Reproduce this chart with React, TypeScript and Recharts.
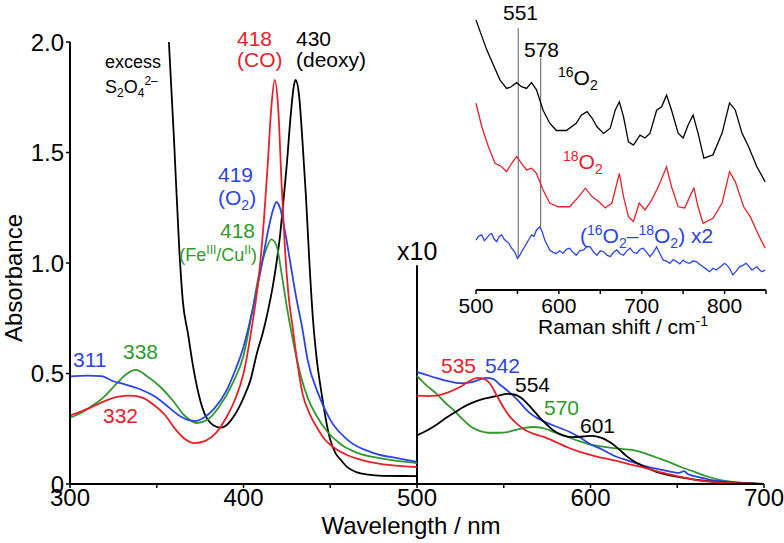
import { LineChart, Line, XAxis, YAxis, ReferenceLine } from 'recharts';

// UV-vis absorbance, Soret region 300-500 nm  [wavelength, absorbance]
const soretBlue = [
  [300, 0.487], [310, 0.49], [318, 0.488], [325, 0.465], [332, 0.45], [340, 0.43], [348, 0.4],
  [355, 0.36], [362, 0.315], [368, 0.29], [372, 0.285], [377, 0.3], [383, 0.34], [390, 0.42],
  [395, 0.51], [400, 0.62], [405, 0.78], [410, 0.97], [414, 1.14], [417, 1.24], [419, 1.276],
  [421, 1.25], [424, 1.14], [427, 1.0], [430, 0.86], [434, 0.7], [437, 0.56], [443, 0.41],
  [450, 0.29], [460, 0.2], [475, 0.14], [490, 0.115], [500, 0.1],
];
const soretRed = [
  [300, 0.31], [307, 0.33], [313, 0.35], [320, 0.375], [328, 0.395], [335, 0.4], [342, 0.39],
  [348, 0.36], [355, 0.31], [360, 0.255], [366, 0.205], [372, 0.185], [378, 0.195], [384, 0.23],
  [390, 0.3], [395, 0.38], [400, 0.5], [405, 0.72], [409, 0.95], [412, 1.22], [414, 1.45],
  [416, 1.7], [418, 1.828], [420, 1.7], [422, 1.35], [424, 1.05], [426, 0.85], [428.5, 0.7],
  [431, 0.55], [434, 0.41], [438, 0.32], [442, 0.26], [447, 0.2], [452, 0.165], [460, 0.13],
  [470, 0.105], [485, 0.085], [500, 0.077],
];
const soretGreen = [
  [300, 0.3], [306, 0.32], [312, 0.35], [319, 0.39], [327, 0.455], [333, 0.5], [338, 0.516],
  [344, 0.49], [352, 0.44], [359, 0.38], [366, 0.31], [373, 0.276], [379, 0.29], [386, 0.35],
  [394, 0.46], [400, 0.58], [405, 0.78], [409, 0.95], [413, 1.06], [416, 1.107], [419, 1.08],
  [422, 0.95], [425, 0.8], [429, 0.63], [433, 0.49], [437, 0.39], [442, 0.31], [448, 0.24],
  [456, 0.18], [466, 0.14], [480, 0.115], [500, 0.095],
];
const soretBlack = [
  [357, 2.0], [360, 1.55], [363, 1.06], [365, 0.83], [368, 0.68], [371, 0.53], [375, 0.38],
  [378, 0.31], [381, 0.276], [384, 0.26], [387, 0.255], [390, 0.265], [393, 0.29], [397, 0.34],
  [400, 0.39], [404, 0.47], [408, 0.6], [411, 0.68], [414, 0.78], [417, 0.9], [419, 1.0],
  [421, 1.12], [423, 1.28], [425, 1.45], [427, 1.65], [429, 1.8], [430, 1.828], [432, 1.76],
  [434, 1.55], [436, 1.3], [438, 1.0], [440, 0.75], [442, 0.58], [445, 0.41], [448, 0.27],
  [450, 0.2], [453, 0.14], [456, 0.11], [460, 0.075], [465, 0.054], [472, 0.042], [480, 0.037],
  [500, 0.036],
];

// Q-band region 500-700 nm, shown x10
const qBlue = [
  [500, 0.507], [505, 0.495], [511, 0.48], [518, 0.465], [525, 0.456], [531, 0.46], [536, 0.472],
  [540, 0.48], [544, 0.475], [547, 0.455], [551, 0.43], [554, 0.41], [558, 0.38], [562, 0.345],
  [566, 0.315], [570, 0.295], [578, 0.267], [588, 0.235], [594, 0.21], [600, 0.18], [607, 0.155],
  [613, 0.13], [622, 0.105], [632, 0.08], [642, 0.063], [651, 0.05], [654, 0.058], [656, 0.045],
  [663, 0.03], [670, 0.018], [680, 0.01], [690, 0.004], [700, 0],
];
const qRed = [
  [500, 0.4], [506, 0.398], [511, 0.4], [518, 0.415], [525, 0.44], [530, 0.465], [535, 0.48],
  [539, 0.475], [542, 0.455], [546, 0.4], [550, 0.345], [554, 0.3], [558, 0.27], [562, 0.245],
  [567, 0.228], [573, 0.213], [580, 0.19], [587, 0.165], [594, 0.145], [603, 0.125], [613, 0.108],
  [622, 0.09], [632, 0.072], [642, 0.05], [652, 0.032], [661, 0.018], [670, 0.01], [685, 0.004],
  [700, 0],
];
const qGreen = [
  [500, 0.49], [505, 0.45], [511, 0.41], [516, 0.37], [521, 0.335], [526, 0.295], [531, 0.26],
  [536, 0.24], [541, 0.232], [547, 0.232], [552, 0.235], [557, 0.245], [562, 0.254], [568, 0.258],
  [574, 0.25], [579, 0.235], [586, 0.215], [593, 0.195], [600, 0.178], [608, 0.168], [616, 0.16],
  [624, 0.154], [631, 0.14], [638, 0.12], [645, 0.1], [652, 0.077], [660, 0.055], [667, 0.035],
  [675, 0.018], [682, 0.009], [690, 0.004], [700, 0],
];
const qBlack = [
  [500, 0.22], [506, 0.243], [511, 0.267], [516, 0.295], [521, 0.32], [526, 0.345], [531, 0.365],
  [536, 0.38], [541, 0.39], [547, 0.4], [552, 0.408], [556, 0.405], [560, 0.39], [564, 0.36],
  [568, 0.325], [572, 0.29], [576, 0.26], [580, 0.235], [585, 0.218], [590, 0.212], [596, 0.215],
  [601, 0.218], [606, 0.21], [611, 0.19], [616, 0.16], [621, 0.125], [626, 0.098], [632, 0.075],
  [638, 0.055], [645, 0.04], [652, 0.03], [660, 0.02], [670, 0.011], [685, 0.005], [700, 0],
];

// resonance Raman inset, arbitrary intensity  [shift cm-1, intensity]
const raman16 = [
  [500, 9.31], [505, 8.91], [513, 8.28], [521, 7.76], [529, 7.24], [537, 6.95], [542, 7.0],
  [549, 7.15], [555, 7.01], [561, 6.95], [567, 7.15], [573, 6.9], [581, 6.2], [589, 5.75],
  [597, 5.5], [609, 5.5], [621, 5.75], [627, 6.03], [634, 6.15], [640, 5.93], [646, 5.63],
  [654, 5.4], [662, 5.58], [668, 6.2], [673, 6.49], [678, 5.98], [684, 5.11], [690, 5.0],
  [698, 5.34], [704, 5.24], [710, 5.41], [718, 6.2], [724, 6.32], [730, 6.72], [736, 6.2],
  [744, 5.41], [750, 5.24], [756, 5.69], [762, 6.03], [768, 5.41], [775, 4.55], [786, 4.66],
  [797, 5.41], [806, 6.45], [813, 6.2], [821, 5.41], [829, 4.94], [839, 4.25], [849, 3.73],
];
const raman18 = [
  [500, 6.44], [507, 5.63], [515, 4.94], [523, 4.37], [531, 4.25], [537, 4.08], [543, 4.37],
  [549, 4.6], [555, 4.37], [561, 4.14], [567, 4.2], [573, 4.02], [581, 3.45], [589, 3.0],
  [599, 2.87], [613, 2.87], [624, 3.22], [632, 3.51], [640, 3.22], [648, 3.05], [656, 2.83],
  [664, 3.0], [669, 3.56], [673, 4.02], [678, 3.22], [684, 2.53], [690, 2.36], [697, 3.0],
  [704, 2.76], [712, 3.1], [720, 3.56], [730, 4.25], [736, 3.56], [744, 2.87], [752, 2.83],
  [758, 3.22], [763, 3.51], [768, 2.87], [774, 2.3], [786, 2.47], [797, 3.0], [806, 4.08],
  [813, 3.73], [823, 2.87], [831, 2.53], [841, 1.9], [849, 1.44],
];
const ramanDiff = [
  [500, 1.72], [503, 1.85], [507, 1.9], [510, 1.7], [513, 1.79], [516, 1.9], [519, 1.95],
  [522, 1.75], [525, 1.67], [528, 1.85], [531, 1.9], [534, 1.75], [537, 1.67], [540, 1.6],
  [543, 1.44], [547, 1.3], [550, 1.09], [553, 1.2], [555, 1.32], [558, 1.45], [561, 1.61],
  [564, 1.75], [567, 1.9], [570, 1.85], [573, 2.07], [577, 2.18], [580, 2.0], [583, 1.72],
  [586, 1.55], [589, 1.38], [593, 1.3], [597, 1.26], [601, 1.35], [605, 1.26], [609, 1.4],
  [613, 1.44], [617, 1.3], [621, 1.2], [625, 1.35], [630, 1.38], [634, 1.5], [638, 1.49],
  [642, 1.3], [646, 1.2], [650, 1.35], [654, 1.32], [658, 1.2], [662, 1.15], [666, 1.3],
  [670, 1.38], [674, 1.25], [678, 1.2], [682, 1.35], [686, 1.44], [690, 1.3], [694, 1.26],
  [698, 1.4], [702, 1.44], [706, 1.3], [710, 1.15], [714, 1.3], [718, 1.49], [722, 1.25],
  [726, 1.03], [730, 1.0], [734, 0.92], [738, 1.05], [742, 0.98], [746, 0.9], [750, 1.03],
  [754, 0.95], [758, 0.92], [762, 1.0], [766, 0.98], [770, 0.88], [774, 0.8], [778, 0.72],
  [782, 0.63], [786, 0.75], [790, 0.69], [795, 0.8], [800, 0.92], [803, 0.85], [806, 0.75],
  [810, 0.52], [814, 0.65], [818, 0.8], [822, 0.85], [826, 0.92], [830, 0.8], [833, 0.69],
  [836, 0.75], [839, 0.8], [842, 0.7], [845, 0.63], [849, 0.69],
];

const absTicks = [0, 0.5, 1, 1.5, 2];
const wlTicks = [300, 350, 400, 450, 500, 550, 600, 650, 700];
const ramanTicks = [500, 550, 600, 650, 700, 750, 800, 850];
const markerLines = [
  { shift: 551, from: 1.1, to: 9.03 },
  { shift: 578, from: 2.14, to: 8.0 },
];

const FONT = '"Liberation Sans", Arial, Helvetica, sans-serif';
const RED = '#e8202a';
const BLUE = '#2b44e3';
const GREEN = '#2f9a2c';
const BLACK = '#000000';

const pts = (arr: number[][]) => arr.map(([x, y]) => ({ x, y }));

const mainSeries = [
  { id: 'sB', data: soretBlack, color: BLACK },
  { id: 'sG', data: soretGreen, color: GREEN },
  { id: 'sBl', data: soretBlue, color: BLUE },
  { id: 'sR', data: soretRed, color: RED },
  { id: 'qG', data: qGreen, color: GREEN },
  { id: 'qBl', data: qBlue, color: BLUE },
  { id: 'qB', data: qBlack, color: BLACK },
  { id: 'qR', data: qRed, color: RED },
];
const ramanSeries = [
  { id: 'r16', data: raman16, color: BLACK },
  { id: 'r18', data: raman18, color: RED },
  { id: 'rd', data: ramanDiff, color: BLUE },
];

const hundreds = (v: number) => (v % 100 === 0 ? String(v) : '');

export default function App() {
  return (
    <div style={{ position: 'absolute', left: 0, top: 0, width: 784, height: 543, background: '#fff', fontFamily: FONT }}>
      {/* main absorption spectrum */}
      <div style={{ position: 'absolute', left: 0, top: 0 }}>
        <LineChart width={784} height={543} margin={{ top: 42, right: 20, bottom: 29, left: 0 }}>
          <XAxis
            type="number"
            dataKey="x"
            domain={[300, 700]}
            ticks={wlTicks}
            tickFormatter={hundreds}
            height={30}
            tickSize={4}
            tickMargin={1}
            axisLine={{ stroke: '#000', strokeWidth: 2 }}
            tickLine={{ stroke: '#000', strokeWidth: 1.5 }}
            tick={{ fill: '#000', fontSize: 24, fontFamily: FONT }}
          />
          <YAxis
            type="number"
            dataKey="y"
            domain={[0, 2]}
            ticks={absTicks}
            allowDataOverflow
            width={70}
            tickSize={4}
            tickMargin={2}
            tickFormatter={(v: number) => (v === 0 ? '0' : v.toFixed(1))}
            axisLine={{ stroke: '#000', strokeWidth: 2 }}
            tickLine={{ stroke: '#000', strokeWidth: 1.5 }}
            tick={{ fill: '#000', fontSize: 24, fontFamily: FONT }}
          />
          <ReferenceLine
            segment={[{ x: 500, y: 0 }, { x: 500, y: 0.99 }]}
            stroke="#000"
            strokeWidth={2}
          />
          {mainSeries.map((s) => (
            <Line
              key={s.id}
              data={pts(s.data)}
              dataKey="y"
              type="monotone"
              stroke={s.color}
              strokeWidth={1.8}
              dot={false}
              isAnimationActive={false}
            />
          ))}
        </LineChart>
      </div>

      {/* Raman inset */}
      <div style={{ position: 'absolute', left: 0, top: 0 }}>
        <LineChart width={784} height={543} margin={{ top: 0, right: 18, bottom: 203, left: 476 }}>
          <XAxis
            type="number"
            dataKey="x"
            domain={[500, 850]}
            ticks={ramanTicks}
            tickFormatter={hundreds}
            height={50}
            tickSize={4}
            tickMargin={4}
            axisLine={{ stroke: '#000', strokeWidth: 2 }}
            tickLine={{ stroke: '#000', strokeWidth: 1.5 }}
            tick={{ fill: '#000', fontSize: 21, fontFamily: FONT }}
          />
          <YAxis
            type="number"
            dataKey="y"
            domain={[0, 10]}
            width={0}
            tick={false}
            tickLine={false}
            axisLine={{ stroke: '#000', strokeWidth: 2 }}
          />
          {markerLines.map((m) => (
            <ReferenceLine
              key={m.shift}
              segment={[{ x: m.shift, y: m.from }, { x: m.shift, y: m.to }]}
              stroke="#777"
              strokeWidth={1.2}
            />
          ))}
          {ramanSeries.map((s) => (
            <Line
              key={s.id}
              data={pts(s.data)}
              dataKey="y"
              type="linear"
              stroke={s.color}
              strokeWidth={1.3}
              dot={false}
              isAnimationActive={false}
            />
          ))}
        </LineChart>
      </div>

      {/* annotations */}
      <svg width={784} height={543} style={{ position: 'absolute', left: 0, top: 0, pointerEvents: 'none' }} fontFamily={FONT}>
        <text x={22} y={278} fontSize={24} textAnchor="middle" transform="rotate(-90 22 278)">Absorbance</text>
        <text x={411} y={534} fontSize={24} textAnchor="middle">Wavelength / nm</text>
        <text x={623} y={334} fontSize={21} textAnchor="middle">
          Raman shift / cm<tspan dy={-8} fontSize={14}>-1</tspan>
        </text>

        <text x={105} y={68} fontSize={18}>excess</text>
        <text x={105} y={93} fontSize={18}>
          S<tspan dy={4} fontSize={12}>2</tspan><tspan dy={-4}>O</tspan><tspan dy={4} fontSize={12}>4</tspan>
          <tspan dy={-12} fontSize={12}>2–</tspan>
        </text>

        <text x={237} y={46} fontSize={21} fill={RED}>418</text>
        <text x={237} y={67} fontSize={21} fill={RED}>(CO)</text>
        <text x={296} y={46} fontSize={21}>430</text>
        <text x={296} y={67} fontSize={21}>(deoxy)</text>
        <text x={218} y={182} fontSize={21} fill={BLUE}>419</text>
        <text x={218} y={205} fontSize={21} fill={BLUE}>
          (O<tspan dy={5} fontSize={14}>2</tspan><tspan dy={-5}>)</tspan>
        </text>
        <text x={220} y={238} fontSize={21} fill={GREEN}>418</text>
        <text x={257} y={261} fontSize={18} fill={GREEN} textAnchor="end">
          (Fe<tspan dy={-7} fontSize={12}>III</tspan><tspan dy={7}>/Cu</tspan>
          <tspan dy={-7} fontSize={12}>II</tspan><tspan dy={7}>)</tspan>
        </text>

        <text x={73} y={367} fontSize={21} fill={BLUE}>311</text>
        <text x={123} y={359} fontSize={21} fill={GREEN}>338</text>
        <text x={103} y={423} fontSize={21} fill={RED}>332</text>

        <text x={397} y={260} fontSize={25}>x10</text>
        <text x={441} y={373} fontSize={21} fill={RED}>535</text>
        <text x={485} y={373} fontSize={21} fill={BLUE}>542</text>
        <text x={515} y={392} fontSize={21}>554</text>
        <text x={544} y={415} fontSize={21} fill={GREEN}>570</text>
        <text x={580} y={433} fontSize={21}>601</text>

        <text x={503} y={20} fontSize={21}>551</text>
        <text x={524} y={57} fontSize={21}>578</text>
        <text x={558} y={85} fontSize={21}>
          <tspan dy={-8} fontSize={14}>16</tspan><tspan dy={8}>O</tspan><tspan dy={5} fontSize={14}>2</tspan>
        </text>
        <text x={563} y={169} fontSize={21} fill={RED}>
          <tspan dy={-8} fontSize={14}>18</tspan><tspan dy={8}>O</tspan><tspan dy={5} fontSize={14}>2</tspan>
        </text>
        <text x={580} y={243} fontSize={21} fill={BLUE}>
          (<tspan dy={-8} fontSize={14}>16</tspan><tspan dy={8}>O</tspan><tspan dy={5} fontSize={14}>2</tspan>
          <tspan dy={-5}>–</tspan><tspan dy={-8} fontSize={14}>18</tspan><tspan dy={8}>O</tspan>
          <tspan dy={5} fontSize={14}>2</tspan><tspan dy={-5}>) x2</tspan>
        </text>
      </svg>
    </div>
  );
}
